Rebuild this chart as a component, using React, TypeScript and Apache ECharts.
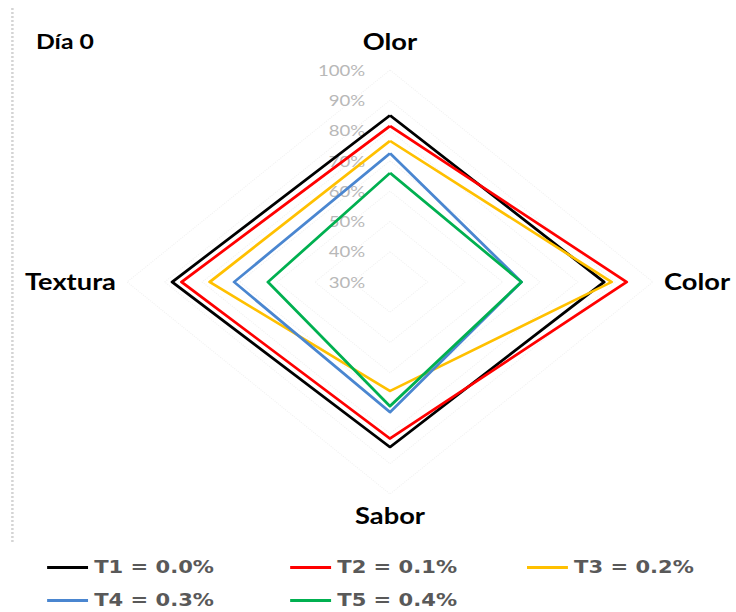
import React, { useEffect, useRef } from 'react';
import * as echarts from 'echarts';

// Radar axes (ECharts places them counter-clockwise from the top)
const indicatorNames = ['Olor', 'Textura', 'Sabor', 'Color'];
const tickMin = 30;
const tickMax = 100;
const tickCount = 7;

const seriesNames = ['T1 = 0.0%', 'T2 = 0.1%', 'T3 = 0.2%', 'T4 = 0.3%', 'T5 = 0.4%'];
// values in order: Olor, Textura, Sabor, Color
const t1 = [85, 88, 84.5, 87];
const t2 = [81.5, 85.5, 81.7, 93];
const t3 = [76.6, 78, 66, 89];
const t4 = [72.5, 71.5, 73, 65];
const t5 = [66, 62.5, 71, 65];
const seriesValues = [t1, t2, t3, t4, t5];
const seriesColors = ['#000000', '#ff0000', '#ffc000', '#4a86d0', '#00b050'];
const titleText = 'Día 0';

const STRETCH = 1.24;
const W = 736;
const H = 612;

// legend slots (native, unstretched px)
const legendLeft = [38, 234, 425, 38, 234];
const legendTop = [559, 559, 559, 592, 592];

export default function App() {
  const ref = useRef<HTMLDivElement>(null);
  useEffect(() => {
    if (!ref.current) return;
    const chart = echarts.init(ref.current, undefined, { renderer: 'svg' });
    const font = 'Lato';
    const nameStyle = { color: '#000', fontWeight: 'bold', fontSize: 22, fontFamily: font };
    chart.setOption({
      animation: false,
      title: {
        text: titleText,
        left: 24,
        top: 26,
        textStyle: { fontFamily: font, fontWeight: 'bold', fontSize: 20, color: '#000' },
      },
      graphic: [
        {
          type: 'line',
          shape: { x1: 10, y1: 8, x2: 10, y2: 542 },
          style: { stroke: '#d4d4d4', lineWidth: 2, lineDash: [2, 2] },
        },
      ],
      legend: seriesNames.map((name, i) => ({
        data: [name],
        left: legendLeft[i],
        top: legendTop[i],
        padding: 0,
        icon: 'rect',
        itemWidth: 33,
        itemHeight: 3,
        textStyle: {
          fontFamily: 'DejaVu Sans',
          fontWeight: 'bold',
          fontSize: 17,
          lineHeight: 16,
          color: '#595959',
        },
      })),
      radar: {
        center: [W / STRETCH * (390 / 736), 282],
        radius: 212,
        startAngle: 90,
        splitNumber: tickCount,
        shape: 'polygon',
        nameGap: 9,
        axisName: {
          ...nameStyle,
          formatter: (name: string) =>
            name === 'Olor' ? '{up|' + name + '}' : name === 'Sabor' ? '{down|' + name + '}' : name,
          rich: {
            up: { ...nameStyle, padding: [0, 0, 8, 0] },
            down: { ...nameStyle, padding: [2, 0, 0, 0] },
          },
        },
        indicator: indicatorNames.map((name, i) => ({
          name,
          min: tickMin,
          max: tickMax,
          axisLabel: { show: i === 0 },
        })),
        axisLine: { show: false },
        axisTick: { show: false },
        splitLine: { lineStyle: { color: '#f2f2f2', type: 'dotted', width: 1 } },
        splitArea: { show: false },
        axisLabel: {
          show: false,
          formatter: '{value}%',
          color: '#b8b8b8',
          fontSize: 15,
          fontFamily: font,
          margin: 20,
        },
      },
      series: [
        {
          type: 'radar',
          symbol: 'none',
          data: seriesNames.map((name, i) => ({
            name,
            value: seriesValues[i],
            lineStyle: { color: seriesColors[i], width: 2.5 },
            itemStyle: { color: seriesColors[i] },
          })),
        },
      ],
    });
    return () => chart.dispose();
  }, []);
  return (
    <div style={{ position: 'absolute', left: 0, top: 0, width: W, height: H, overflow: 'hidden', background: '#fff' }}>
      <div
        ref={ref}
        style={{
          width: W / STRETCH,
          height: H,
          transform: `scaleX(${STRETCH})`,
          transformOrigin: '0 0',
        }}
      />
    </div>
  );
}
